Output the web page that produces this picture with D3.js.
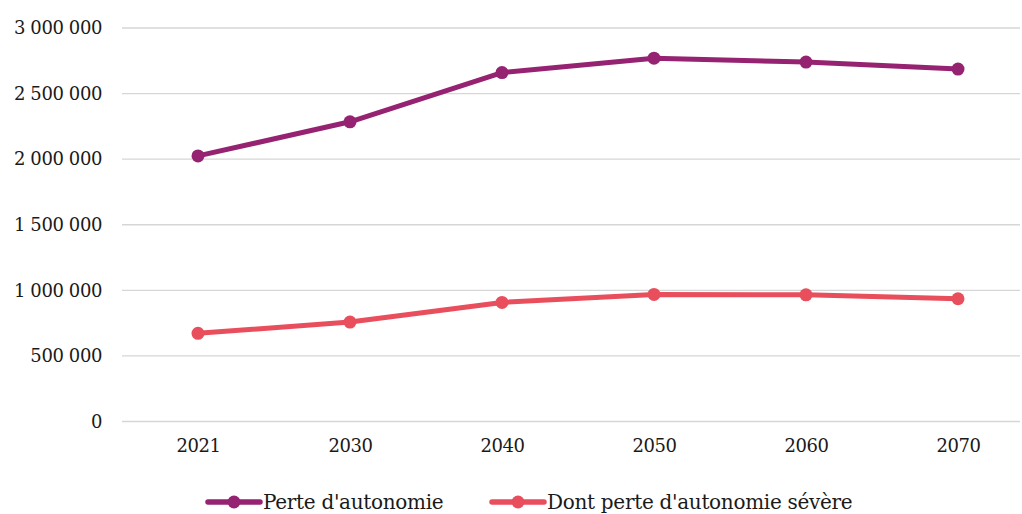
<!DOCTYPE html>
<html>
<head>
<meta charset="utf-8">
<script src="https://cdn.jsdelivr.net/npm/d3@7"></script>
<style>
  html, body { margin: 0; padding: 0; background: #ffffff; }
  svg text { font-family: "DejaVu Serif", serif; fill: #1a1a1a; }
</style>
</head>
<body>
<svg id="chart" width="1022" height="514"></svg>
<script>
// Years shown on the horizontal axis
const years = ["2021", "2030", "2040", "2050", "2060", "2070"];
// Number of people with loss of autonomy
const perteAutonomie = [2025000, 2285000, 2660000, 2770000, 2740000, 2687000];
// Of which severe loss of autonomy
const perteSevere = [672000, 758000, 908000, 969000, 966000, 936000];
// Vertical axis ticks
const yTicks = [0, 500000, 1000000, 1500000, 2000000, 2500000, 3000000];

const seriesNames = ["Perte d'autonomie", "Dont perte d'autonomie sévère"];
const colors = ["#962272", "#E94E5D"];

const svg = d3.select("#chart");
const margin = { left: 122, right: 1034, top: 28, bottom: 421.5 };

const x = d3.scalePoint().domain(years).range([margin.left, margin.right]).padding(0.5);
const y = d3.scaleLinear().domain([0, 3000000]).range([margin.bottom, margin.top]);

const fmt = v => d3.format(",")(v).replace(/,/g, " ");

// Horizontal gridlines
svg.append("g")
  .selectAll("line")
  .data(yTicks)
  .join("line")
  .attr("x1", margin.left)
  .attr("x2", 1020)
  .attr("y1", d => y(d))
  .attr("y2", d => y(d))
  .attr("stroke", "#d6d6d6")
  .attr("stroke-width", 1.3);

// Y axis labels
const yAxis = d3.axisLeft(y).tickValues(yTicks).tickFormat(fmt).tickSize(0).tickPadding(0);
const gy = svg.append("g").attr("transform", `translate(102,0)`).call(yAxis);
gy.select(".domain").remove();
gy.selectAll("text").attr("font-size", 18).attr("fill", "#1a1a1a")
  .attr("font-family", "DejaVu Serif, serif").attr("letter-spacing", -0.4);

// X axis labels
const xAxis = d3.axisBottom(x).tickSize(0).tickPadding(0);
const gx = svg.append("g").attr("transform", `translate(0,439)`).call(xAxis);
gx.select(".domain").remove();
gx.selectAll("text").attr("font-size", 18).attr("fill", "#1a1a1a")
  .attr("font-family", "DejaVu Serif, serif").attr("letter-spacing", -0.4);

// Lines and markers
const allSeries = [perteAutonomie, perteSevere];
const line = d3.line().x((d, i) => x(years[i])).y(d => y(d));

allSeries.forEach((vals, si) => {
  svg.append("path")
    .datum(vals)
    .attr("d", line)
    .attr("fill", "none")
    .attr("stroke", colors[si])
    .attr("stroke-width", 5)
    .attr("stroke-linejoin", "round")
    .attr("stroke-linecap", "round");
  svg.append("g")
    .selectAll("circle")
    .data(vals)
    .join("circle")
    .attr("cx", (d, i) => x(years[i]))
    .attr("cy", d => y(d))
    .attr("r", 6.5)
    .attr("fill", colors[si]);
});

// Legend
const legendItems = [
  { x0: 208, name: seriesNames[0], color: colors[0] },
  { x0: 492, name: seriesNames[1], color: colors[1] }
];
const ly = 502;
legendItems.forEach(it => {
  svg.append("line")
    .attr("x1", it.x0).attr("x2", it.x0 + 52)
    .attr("y1", ly).attr("y2", ly)
    .attr("stroke", it.color).attr("stroke-width", 5.5).attr("stroke-linecap", "round");
  svg.append("circle")
    .attr("cx", it.x0 + 26).attr("cy", ly).attr("r", 6.5).attr("fill", it.color);
  svg.append("text")
    .attr("x", it.x0 + 55).attr("y", ly + 7)
    .attr("font-size", 20)
    .attr("letter-spacing", -0.3)
    .text(it.name);
});
</script>
</body>
</html>
